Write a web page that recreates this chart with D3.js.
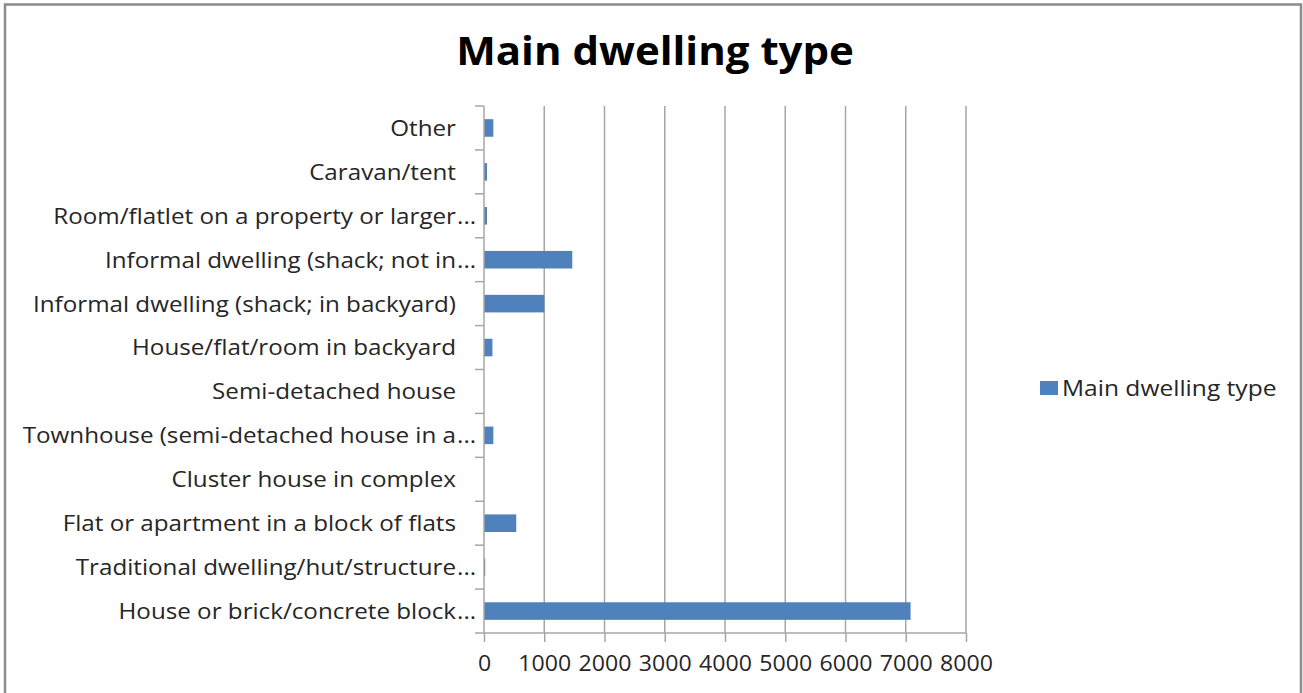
<!DOCTYPE html>
<html>
<head>
<meta charset="utf-8">
<script src="https://cdn.jsdelivr.net/npm/d3@7"></script>
<style>
  html, body { margin: 0; padding: 0; background: #fff; }
  svg { display: block; }
  text { font-family: "Open Sans", "Noto Sans", sans-serif; fill: #262626; }
</style>
</head>
<body>
<svg id="chart" width="1303" height="693"></svg>
<script>
// Dwelling types, listed bottom to top as they appear on the axis
const categories = [
  "House or brick/concrete block...",
  "Traditional dwelling/hut/structure...",
  "Flat or apartment in a block of flats",
  "Cluster house in complex",
  "Townhouse (semi-detached house in a...",
  "Semi-detached house",
  "House/flat/room in backyard",
  "Informal dwelling (shack; in backyard)",
  "Informal dwelling (shack; not in...",
  "Room/flatlet on a property or larger...",
  "Caravan/tent",
  "Other"
];
const values = [7080, 20, 535, 0, 155, 0, 140, 1000, 1465, 50, 50, 155];
const xTicks = [0, 1000, 2000, 3000, 4000, 5000, 6000, 7000, 8000];
const seriesName = "Main dwelling type";
const chartTitle = "Main dwelling type";

const svg = d3.select("#chart");
const stretch = 1.1; // glyphs are set slightly wide

// chart frame
svg.append("rect")
  .attr("x", 5).attr("y", 4.5).attr("width", 1296).attr("height", 700)
  .attr("fill", "#fff").attr("stroke", "#8c8c8c").attr("stroke-width", 2.5);

const plot = { left: 484, right: 966, top: 106, bottom: 633 };

const x = d3.scaleLinear().domain([0, 8000]).range([plot.left, plot.right]);
const y = d3.scaleBand()
  .domain(categories.slice().reverse())
  .range([plot.top, plot.bottom])
  .paddingInner(0.6).paddingOuter(0.3);

// vertical gridlines
svg.append("g").selectAll("line")
  .data(xTicks.filter(d => d > 0))
  .join("line")
  .attr("x1", d => x(d)).attr("x2", d => x(d))
  .attr("y1", plot.top).attr("y2", plot.bottom)
  .attr("stroke", "#a6a6a6").attr("stroke-width", 1.5);

// bars
svg.append("g").selectAll("rect")
  .data(categories.map((c, i) => ({ c, v: values[i] })))
  .join("rect")
  .attr("x", x(0))
  .attr("y", d => y(d.c))
  .attr("width", d => x(d.v) - x(0))
  .attr("height", y.bandwidth())
  .attr("fill", "#4f81bd");

// x axis
const xAxis = svg.append("g")
  .attr("transform", `translate(0,${plot.bottom})`)
  .call(d3.axisBottom(x).tickValues(xTicks).tickSize(9).tickFormat(d3.format("d")));
xAxis.select(".domain").remove();
xAxis.selectAll(".tick line").attr("stroke", "#a6a6a6").attr("stroke-width", 1.5);
xAxis.selectAll(".tick text")
  .attr("font-family", "Open Sans")
  .attr("font-size", 21).attr("fill", "#262626")
  .attr("y", 0).attr("dy", null)
  .attr("transform", `translate(0,38) scale(${stretch},1)`);
svg.append("line")
  .attr("x1", plot.left - 9).attr("x2", plot.right)
  .attr("y1", plot.bottom).attr("y2", plot.bottom)
  .attr("stroke", "#a6a6a6").attr("stroke-width", 1.5);

// y axis line with ticks on category boundaries
svg.append("line")
  .attr("x1", plot.left).attr("x2", plot.left)
  .attr("y1", plot.top).attr("y2", plot.bottom)
  .attr("stroke", "#a6a6a6").attr("stroke-width", 1.5);
const bounds = d3.range(categories.length).map(i => plot.top + i * (plot.bottom - plot.top) / categories.length);
svg.append("g").selectAll("line")
  .data(bounds)
  .join("line")
  .attr("x1", plot.left - 9).attr("x2", plot.left)
  .attr("y1", d => d).attr("y2", d => d)
  .attr("stroke", "#a6a6a6").attr("stroke-width", 1.5);

// category labels; a trailing ellipsis hangs past the right edge
const labelEdge = 456;
const labels = svg.append("g").selectAll("g")
  .data(categories)
  .join("g")
  .attr("transform", d => `translate(${labelEdge},${y(d) + y.bandwidth() / 2}) scale(${stretch},1)`);
labels.append("text")
  .attr("x", 0)
  .attr("dy", "0.36em")
  .attr("text-anchor", "end")
  .attr("font-size", 22)
  .text(d => d.replace(/\.\.\.$/, ""));
labels.filter(d => d.endsWith("...")).append("text")
  .attr("x", 1)
  .attr("dy", "0.36em")
  .attr("font-size", 22)
  .text("...");

// title
svg.append("text")
  .attr("transform", "translate(655,65) scale(1.05,1)")
  .attr("text-anchor", "middle")
  .attr("font-size", 40).attr("font-weight", "bold")
  .style("fill", "#000")
  .text(chartTitle);

// legend
const legend = svg.append("g").attr("transform", "translate(1040,388)");
legend.append("rect")
  .attr("x", 0).attr("y", -7).attr("width", 18).attr("height", 14)
  .attr("fill", "#4f81bd");
legend.append("text")
  .attr("transform", "translate(22,0) scale(1.17,1)")
  .attr("dy", "0.36em")
  .attr("font-size", 21)
  .text(seriesName);
</script>
</body>
</html>
